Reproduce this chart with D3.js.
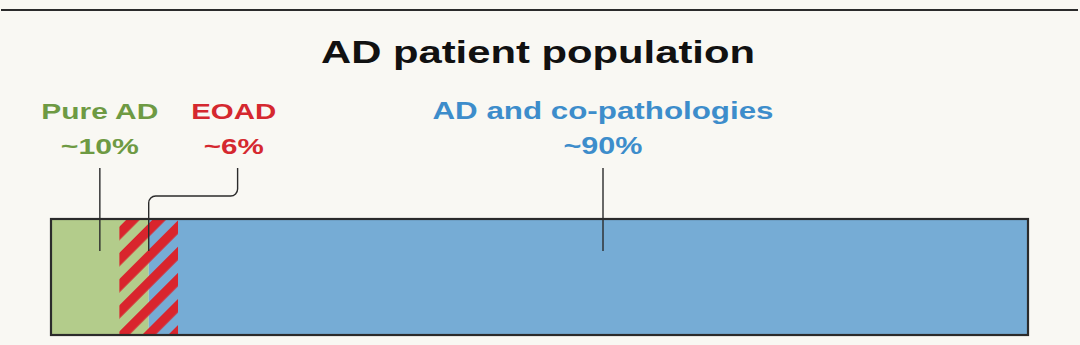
<!DOCTYPE html>
<html>
<head>
<meta charset="utf-8">
<script src="https://cdn.jsdelivr.net/npm/d3@7"></script>
<style>
  html, body { margin: 0; padding: 0; background: #f9f8f3; }
  svg { display: block; }
  text { font-family: "Liberation Sans", Arial, Helvetica, sans-serif; font-weight: bold; }
</style>
</head>
<body>
<svg id="chart" width="1080" height="345"></svg>
<script>
// Shares of the AD patient population (percent)
const segments = ["Pure AD", "AD and co-pathologies"];
const shares = [10, 90];
const segmentLabels = ["~10%", "~90%"];
// Early-onset AD overlaps both groups and straddles the boundary
const overlayName = "EOAD";
const overlayShare = 6;
const overlayLabel = "~6%";
const title = "AD patient population";

const W = 1080, H = 345;
const fills = ["#b3cc8b", "#76acd5"];
const textColors = ["#6e9a43", "#3d8dcb"];
const red = "#d9252d";
const redText = "#d5282f";
const ink = "#2b2b2b";

const svg = d3.select("#chart");

const x = d3.scaleLinear().domain([0, d3.sum(shares)]).range([51, 1028]);
const barTop = 219, barBottom = 335;

// wide bold type: glyphs are stretched horizontally to the set length
function wideText(cx, y, str, size, len, color) {
  return svg.append("text")
    .attr("x", cx - len / 2).attr("y", y)
    .attr("font-size", size)
    .attr("textLength", len)
    .attr("lengthAdjust", "spacingAndGlyphs")
    .attr("fill", color)
    .text(str);
}

// top rule
svg.append("line")
  .attr("x1", 1).attr("x2", W - 2).attr("y1", 10).attr("y2", 10)
  .attr("stroke", ink).attr("stroke-width", 2.2);

// title
wideText(538, 63, title, 32, 434, "#111");

// stacked segments
const starts = d3.cumsum([0, ...shares]).slice(0, shares.length);
const segData = segments.map((name, i) => ({ name, share: shares[i], start: starts[i], fill: fills[i] }));

svg.selectAll("rect.seg")
  .data(segData)
  .join("rect")
  .attr("class", "seg")
  .attr("x", d => x(d.start))
  .attr("y", barTop)
  .attr("width", d => x(d.start + d.share) - x(d.start))
  .attr("height", barBottom - barTop)
  .attr("fill", d => d.fill);

// hatched overlay for EOAD
const defs = svg.append("defs");
const period = 18.5;
const pat = defs.append("pattern")
  .attr("id", "hatch")
  .attr("patternUnits", "userSpaceOnUse")
  .attr("width", period).attr("height", period)
  .attr("patternTransform", "translate(0,6) rotate(-45)");
pat.append("rect")
  .attr("x", 0).attr("y", 0).attr("width", period).attr("height", 9.5)
  .attr("fill", red);

const boundary = starts[1];
const ov0 = boundary - overlayShare / 2, ov1 = boundary + overlayShare / 2;
svg.append("rect")
  .attr("x", x(ov0)).attr("y", barTop)
  .attr("width", x(ov1) - x(ov0)).attr("height", barBottom - barTop)
  .attr("fill", "url(#hatch)");

// outline
svg.append("rect")
  .attr("x", x(0)).attr("y", barTop)
  .attr("width", x(d3.sum(shares)) - x(0)).attr("height", barBottom - barTop)
  .attr("fill", "none").attr("stroke", ink).attr("stroke-width", 2.2);

const lineTop = 168, lineBottom = 251;
const row1 = 119, row2 = 154;

// Pure AD
const pureX = x(starts[0] + shares[0] / 2);
wideText(pureX, row1, segments[0], 22.5, 117, textColors[0]);
wideText(pureX, row2, segmentLabels[0], 22.5, 78, textColors[0]);
svg.append("line")
  .attr("x1", pureX).attr("x2", pureX).attr("y1", lineTop).attr("y2", lineBottom)
  .attr("stroke", ink).attr("stroke-width", 1.4);

// AD and co-pathologies
const coX = x(56.5);
wideText(coX, row1, segments[1], 23, 341, textColors[1]);
wideText(coX, row2, segmentLabels[1], 23, 79, textColors[1]);
svg.append("line")
  .attr("x1", coX).attr("x2", coX).attr("y1", lineTop).attr("y2", lineBottom)
  .attr("stroke", ink).attr("stroke-width", 1.4);

// EOAD with elbow leader
const eoLabelX = x(18.7);
const eoLineX = x(19.1);
const eoTarget = x(boundary);
wideText(eoLabelX, row1, overlayName, 22.5, 85, redText);
wideText(eoLabelX, row2, overlayLabel, 22.5, 60, redText);
const r = 7, elbowY = 196;
const path = d3.path();
path.moveTo(eoLineX, lineTop);
path.lineTo(eoLineX, elbowY - r);
path.arcTo(eoLineX, elbowY, eoLineX - r, elbowY, r);
path.lineTo(eoTarget + r, elbowY);
path.arcTo(eoTarget, elbowY, eoTarget, elbowY + r, r);
path.lineTo(eoTarget, lineBottom);
svg.append("path")
  .attr("d", path.toString())
  .attr("fill", "none").attr("stroke", ink).attr("stroke-width", 1.4);
</script>
</body>
</html>
